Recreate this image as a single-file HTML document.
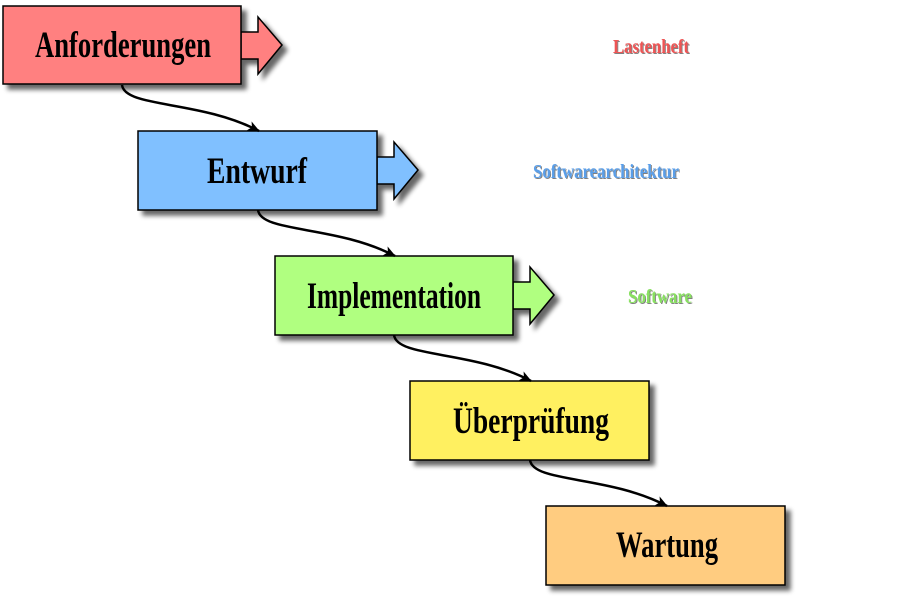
<!DOCTYPE html>
<html><head><meta charset="utf-8"><style>html,body{margin:0;padding:0;background:#fff}svg{display:block}</style></head>
<body>
<svg width="911" height="604" xmlns="http://www.w3.org/2000/svg" font-family="Liberation Serif, serif" font-weight="bold">
<defs>
<filter id="sh" x="-10%" y="-10%" width="130%" height="140%">
<feGaussianBlur in="SourceAlpha" stdDeviation="2.5"/><feOffset dx="5" dy="5"/>
<feComponentTransfer><feFuncA type="linear" slope="0.6"/></feComponentTransfer>
<feMerge><feMergeNode/><feMergeNode in="SourceGraphic"/></feMerge></filter>
<filter id="ts"><feOffset in="SourceAlpha" dx="1" dy="1"/><feComponentTransfer><feFuncA type="linear" slope="0.5"/></feComponentTransfer><feMerge><feMergeNode/><feMergeNode in="SourceGraphic"/></feMerge></filter>
<marker id="ah" markerWidth="12" markerHeight="10" refX="11" refY="5" orient="auto" markerUnits="userSpaceOnUse"><path d="M0,0 L12,5 L0,10 L3,5 Z" fill="#000"/></marker>
</defs>
<g stroke="#000" stroke-width="1.5" filter="url(#sh)">
<path d="M241,32 H258 V17 L282,45 L258,74 V59 H241 Z" fill="#ff8080"/>
<rect x="3" y="6" width="238" height="78" fill="#ff8080"/>
<path d="M377,157 H394 V142 L418,170 L394,199 V184 H377 Z" fill="#80c0ff"/>
<rect x="138" y="131" width="239" height="79" fill="#80c0ff"/>
<path d="M513,282 H530 V267 L554,295 L530,324 V309 H513 Z" fill="#b0ff80"/>
<rect x="275" y="256" width="238" height="79" fill="#b0ff80"/>
<rect x="410" y="381" width="239" height="79" fill="#fff060"/>
<rect x="546" y="506" width="239" height="79" fill="#ffcc80"/>
</g>
<g fill="none" stroke="#000" stroke-width="2.5" marker-end="url(#ah)">
<path d="M122,85 C125,108 200,100 259,131"/>
<path d="M258,210 C261,233 336,225 395,256"/>
<path d="M394,335 C397,358 472,350 531,381"/>
<path d="M530,460 C533,483 608,475 667,506"/>
</g>
<g font-size="37" fill="#000" text-anchor="middle">
<text x="123" y="57" textLength="176" lengthAdjust="spacingAndGlyphs">Anforderungen</text>
<text x="257" y="183" textLength="100" lengthAdjust="spacingAndGlyphs">Entwurf</text>
<text x="394" y="308" textLength="174" lengthAdjust="spacingAndGlyphs">Implementation</text>
<text x="531" y="433" textLength="156" lengthAdjust="spacingAndGlyphs">Überprüfung</text>
<text x="667" y="557" textLength="102" lengthAdjust="spacingAndGlyphs">Wartung</text>
</g>
<g font-size="20" text-anchor="middle" filter="url(#ts)">
<text x="651" y="53" fill="#ee5555" textLength="76" lengthAdjust="spacingAndGlyphs">Lastenheft</text>
<text x="606" y="178" fill="#5a9ee8" textLength="146" lengthAdjust="spacingAndGlyphs">Softwarearchitektur</text>
<text x="660" y="303" fill="#88e060" textLength="64" lengthAdjust="spacingAndGlyphs">Software</text>
</g>
</svg>
</body></html>
